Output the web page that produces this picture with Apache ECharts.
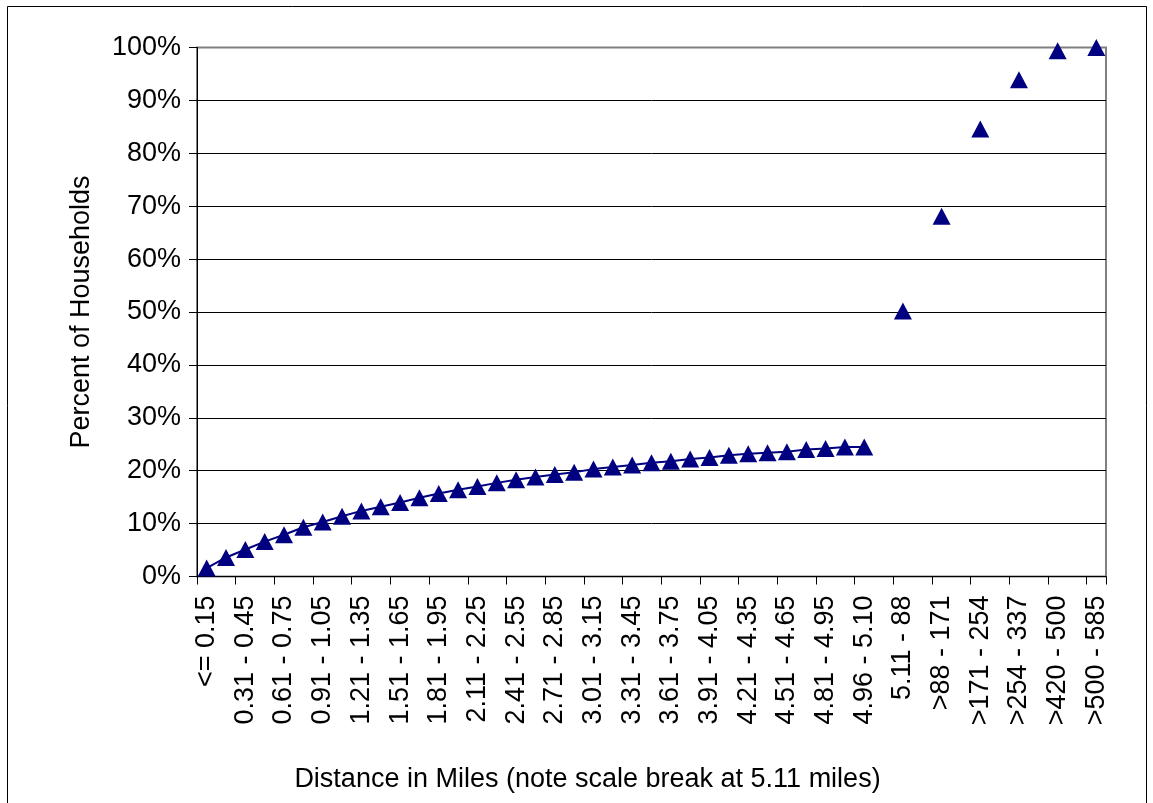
<!DOCTYPE html>
<html>
<head>
<meta charset="utf-8">
<title>Percent of Households by Distance</title>
<script src="https://cdn.jsdelivr.net/npm/echarts@6/dist/echarts.min.js"></script>
<style>
  html, body { margin: 0; padding: 0; background: #fff; }
  #chart { width: 1153px; height: 803px; }
</style>
</head>
<body>
<div id="chart"></div>
<script>
// Distance bins shown on the axis; each labelled bin is followed by an unlabelled slot,
// except the last one.
const tickLabels = [
  '<= 0.15', '0.31 - 0.45', '0.61 - 0.75', '0.91 - 1.05', '1.21 - 1.35', '1.51 - 1.65',
  '1.81 - 1.95', '2.11 - 2.25', '2.41 - 2.55', '2.71 - 2.85', '3.01 - 3.15', '3.31 - 3.45',
  '3.61 - 3.75', '3.91 - 4.05', '4.21 - 4.35', '4.51 - 4.65', '4.81 - 4.95', '4.96 - 5.10',
  '5.11 - 88', '>88 - 171', '>171 - 254', '>254 - 337', '>420 - 500', '>500 - 585'
];

// Cumulative percent of households, short distances (one value per slot, from the first slot)
const nearValues = [
  1.6, 3.6, 5.1, 6.6, 7.9, 9.3, 10.3, 11.4, 12.4, 13.2,
  14.0, 14.9, 15.7, 16.4, 17.0, 17.7, 18.3, 18.8, 19.3, 19.7,
  20.3, 20.7, 21.1, 21.5, 21.8, 22.2, 22.5, 22.9, 23.2, 23.4,
  23.6, 24.0, 24.2, 24.5, 24.5
];

// Cumulative percent of households beyond the scale break (labelled slots only)
const farLabels = ['5.11 - 88', '>88 - 171', '>171 - 254', '>254 - 337', '>420 - 500', '>500 - 585'];
const farValues = [50.2, 68.1, 84.6, 93.9, 99.4, 100];

const yTicks = [0, 10, 20, 30, 40, 50, 60, 70, 80, 90, 100];

// Build the category slots: label, spacer, label, spacer, ...
const categories = [];
tickLabels.forEach(function (t, i) {
  categories.push(t);
  if (i < tickLabels.length - 1) categories.push('');
});

const nearData = nearValues.map(function (v, i) { return [i, v]; });
const farData = farLabels.map(function (lab, i) {
  return [categories.indexOf(lab), farValues[i]];
});

const FONT = "'Liberation Sans', Arial, sans-serif";
const NAVY = '#000080';
const FS = 27;

const chart = echarts.init(document.getElementById('chart'), null, { renderer: 'canvas' });

chart.setOption({
  animation: false,
  backgroundColor: '#ffffff',
  textStyle: { fontFamily: FONT, color: '#000' },
  grid: {
    left: 197, right: 47, top: 47.5, bottom: 226.5,
    show: true, borderColor: '#808080', borderWidth: 2, backgroundColor: '#ffffff'
  },
  xAxis: {
    type: 'category',
    data: categories,
    boundaryGap: true,
    axisLine: { show: true, lineStyle: { color: '#000', width: 1 } },
    axisTick: { show: true, interval: 1, length: 8, lineStyle: { color: '#000', width: 1 } },
    axisLabel: {
      interval: 1, rotate: 90, margin: 19,
      fontFamily: FONT, fontSize: FS, color: '#000'
    },
    splitLine: { show: false }
  },
  yAxis: {
    type: 'value',
    min: yTicks[0], max: yTicks[yTicks.length - 1], interval: 10,
    name: 'Percent of Households',
    nameLocation: 'middle', nameRotate: 90, nameGap: 102,
    nameTextStyle: { fontFamily: FONT, fontSize: FS, color: '#000' },
    axisLine: { show: true, lineStyle: { color: '#000', width: 1 } },
    axisTick: { show: true, length: 8, lineStyle: { color: '#000', width: 1 } },
    axisLabel: {
      margin: 16, fontFamily: FONT, fontSize: FS, color: '#000',
      formatter: '{value}%'
    },
    splitLine: { show: true, showMaxLine: false, lineStyle: { color: '#000', width: 1 } }
  },
  series: [
    {
      name: 'Within 5.10 miles',
      type: 'line',
      data: nearData,
      symbol: 'triangle',
      symbolSize: [18, 17],
      showAllSymbol: true,
      clip: false,
      itemStyle: { color: NAVY, opacity: 1 },
      lineStyle: { color: NAVY, width: 2 },
      z: 3
    },
    {
      name: 'Beyond 5.11 miles',
      type: 'scatter',
      data: farData,
      symbol: 'triangle',
      symbolSize: [18, 17],
      clip: false,
      itemStyle: { color: NAVY, opacity: 1 },
      z: 3
    }
  ],
  graphic: [
    {
      type: 'rect',
      shape: { x: 7.5, y: 6.5, width: 1139, height: 830 },
      style: { fill: null, stroke: '#000', lineWidth: 1 },
      silent: true, z: 100
    },
    {
      type: 'text',
      x: 587.5, y: 780,
      style: {
        text: 'Distance in Miles (note scale break at 5.11 miles)',
        font: FS + 'px ' + FONT,
        fill: '#000',
        textAlign: 'center',
        textVerticalAlign: 'middle'
      },
      silent: true
    }
  ]
});
</script>
</body>
</html>
